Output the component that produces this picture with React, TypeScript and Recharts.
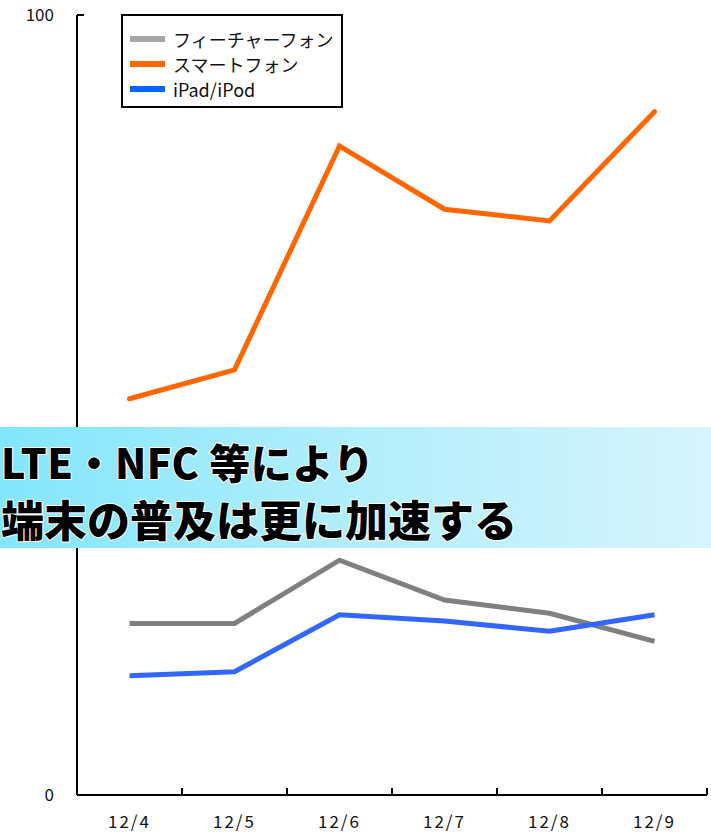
import React from "react";
import { LineChart, Line, XAxis, YAxis } from "recharts";

const categories = ["12/4", "12/5", "12/6", "12/7", "12/8", "12/9"];
const featurePhone = [22.0, 22.0, 30.1, 25.0, 23.3, 19.7];
const smartPhone = [50.8, 54.5, 83.2, 75.1, 73.6, 87.6];
const ipad = [15.3, 15.8, 23.1, 22.3, 21.0, 23.1];
const yTicks = [0, 100];
const seriesNames = ["フィーチャーフォン", "スマートフォン", "iPad/iPod"];
const bannerLines = ["LTE・NFC 等により", "端末の普及は更に加速する"];

const data = categories.map((c, i) => ({
  pos: i + 0.5,
  date: c,
  feature: featurePhone[i],
  smart: smartPhone[i],
  ipad: ipad[i],
}));

const xTicks: number[] = [];
for (let i = 0; i <= categories.length; i++) {
  xTicks.push(i);
  if (i < categories.length) xTicks.push(i + 0.5);
}

const FONT = "'Noto Sans CJK JP', 'DejaVu Sans', sans-serif";

const XTick = (props: any) => {
  const { x, y, payload } = props;
  const v = payload.value;
  if (Number.isInteger(v)) {
    if (v === 0) return null;
    return <line x1={x} x2={x} y1={y - 7} y2={y} stroke="#000" strokeWidth={2} />;
  }
  const label = categories[Math.floor(v)];
  return (
    <text x={x} y={y + 33} textAnchor="middle" fontSize={17} letterSpacing={2} fill="#111" fontFamily={FONT}>
      {label}
    </text>
  );
};

const YTick = (props: any) => {
  const { x, y, payload } = props;
  return (
    <g>
      {payload.value !== 0 && <line x1={x} x2={x + 7} y1={y} y2={y} stroke="#000" strokeWidth={2} />}
      <text x={x - 23} y={y + 6} textAnchor="end" fontSize={17} fill="#111" fontFamily={FONT}>
        {payload.value}
      </text>
    </g>
  );
};

const legendColors = ["#a6a6a6", "#ff6600", "#0066ff"];

const LegendBox = () => (
  <div
    style={{
      position: "absolute",
      left: 121,
      top: 14,
      width: 218,
      height: 90,
      border: "2px solid #000",
      background: "#fff",
      fontFamily: FONT,
    }}
  >
    {seriesNames.map((n, i) => (
      <div key={n} style={{ display: "flex", alignItems: "center", height: 25, marginTop: i === 0 ? 10 : 0, marginLeft: 7 }}>
        <div style={{ width: 35, height: 6, background: legendColors[i], marginRight: 8 }} />
        <span style={{ fontSize: 18, color: "#111", lineHeight: "22px" }}>{n}</span>
      </div>
    ))}
  </div>
);

export default function App() {
  return (
    <div style={{ position: "absolute", left: 0, top: 0, width: 711, height: 834, background: "#fff", overflow: "hidden" }}>
      <LineChart width={711} height={834} data={data} margin={{ top: 15, right: 4, bottom: 0, left: 0 }}>
        <XAxis
          dataKey="pos"
          type="number"
          domain={[0, categories.length]}
          ticks={xTicks}
          interval={0}
          height={39}
          tickSize={0}
          tickMargin={0}
          tickLine={false}
          axisLine={{ stroke: "#000", strokeWidth: 2 }}
          tick={<XTick />}
        />
        <YAxis
          type="number"
          domain={[0, 100]}
          ticks={yTicks}
          width={77}
          tickSize={0}
          tickMargin={0}
          tickLine={false}
          axisLine={{ stroke: "#000", strokeWidth: 2 }}
          tick={<YTick />}
        />
        <Line dataKey="feature" name={seriesNames[0]} stroke="#808080" strokeWidth={5} dot={false} isAnimationActive={false} />
        <Line dataKey="smart" name={seriesNames[1]} stroke="#ff6600" strokeWidth={5} dot={false} isAnimationActive={false} strokeLinecap="round" />
        <Line dataKey="ipad" name={seriesNames[2]} stroke="#3366ff" strokeWidth={5} dot={false} isAnimationActive={false} />
      </LineChart>
      <LegendBox />
      <svg width={711} height={834} style={{ position: "absolute", left: 0, top: 0, pointerEvents: "none" }}>
        <defs>
          <linearGradient id="bannerGrad" x1="0" x2="1" y1="0" y2="0">
            <stop offset="0" stopColor="#82e6fc" />
            <stop offset="0.5" stopColor="#b2eefc" />
            <stop offset="1" stopColor="#d6f5fc" />
          </linearGradient>
        </defs>
        <rect x={0} y={427} width={711} height={121} fill="url(#bannerGrad)" />
        <g fontFamily={FONT} fontWeight={900} fill="#000" stroke="#fff" strokeWidth={2} paintOrder="stroke">
          <text x={1} y={479} fontSize={41} letterSpacing={0.5}>{bannerLines[0]}</text>
          <text x={1} y={537} fontSize={43} letterSpacing={0}>{bannerLines[1]}</text>
        </g>
      </svg>
    </div>
  );
}
